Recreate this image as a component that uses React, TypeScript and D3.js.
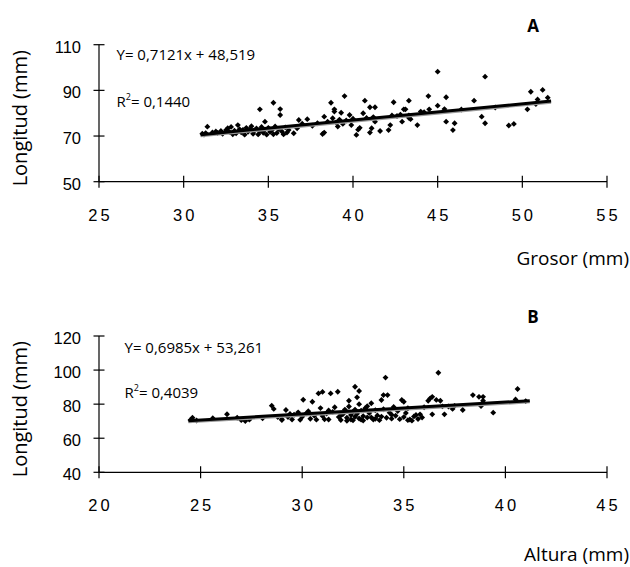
import React from "react";
import * as d3 from "d3";

// Grosor (mm) vs Longitud (mm)
const puntosA: [number, number][] = [
  [31.1, 71.0], [31.2, 70.6], [31.3, 71.3], [31.4, 74.1], [31.7, 71.6], [31.9, 72.0], [32.0, 71.4],
  [32.2, 72.2], [32.3, 71.0], [32.5, 72.6], [32.6, 73.4], [32.7, 71.8], [32.8, 74.0], [32.9, 70.8],
  [33.0, 72.3], [33.1, 71.2], [33.2, 74.8], [33.3, 73.0], [33.4, 71.6], [33.5, 72.7], [33.6, 70.6],
  [33.7, 73.6], [33.8, 71.9], [33.9, 72.8], [34.0, 74.3], [34.1, 71.0], [34.2, 72.4], [34.3, 73.3],
  [34.4, 70.7], [34.5, 81.7], [34.5, 72.0], [34.6, 74.0], [34.7, 71.4], [34.8, 76.3], [34.8, 72.8],
  [34.9, 70.6], [35.0, 73.6], [35.1, 71.8], [35.2, 72.5], [35.3, 84.6], [35.3, 70.8], [35.4, 74.2],
  [35.5, 71.3], [35.6, 73.0], [35.7, 81.8], [35.7, 79.2], [35.8, 72.0], [35.9, 70.7], [36.0, 73.8],
  [36.1, 71.5], [36.2, 72.6],
  [36.5, 71.2], [36.7, 73.4], [36.8, 77.0], [37.0, 75.4], [37.3, 77.4], [37.6, 74.5], [37.9, 75.6],
  [38.2, 70.9], [38.3, 71.5], [38.3, 78.5], [38.5, 76.3], [38.7, 84.6], [38.8, 77.8], [38.9, 81.7],
  [38.9, 80.7], [39.0, 76.0], [39.1, 74.2], [39.2, 77.2], [39.3, 80.2], [39.4, 75.3], [39.5, 87.5],
  [39.6, 76.8], [39.8, 79.2], [39.9, 74.8], [40.0, 77.6], [40.2, 70.5], [40.3, 72.8], [40.4, 73.6],
  [40.6, 80.0], [40.7, 85.5], [40.8, 77.9], [41.0, 82.6], [41.0, 71.5], [41.1, 73.4], [41.2, 78.3],
  [41.3, 82.6], [41.3, 76.3], [41.6, 72.2],
  [42.1, 72.6], [42.2, 74.8], [42.3, 79.0], [42.4, 84.8], [42.6, 78.8], [42.8, 79.4], [42.9, 76.3],
  [43.0, 81.7], [43.1, 81.7], [43.3, 85.5], [43.3, 79.0], [43.3, 78.0], [43.4, 77.4], [43.8, 74.8],
  [44.0, 80.7], [44.2, 80.4], [44.45, 87.5], [44.5, 81.7], [45.0, 98.2], [45.0, 83.3], [45.4, 81.8],
  [45.5, 87.0], [45.5, 76.3], [45.9, 72.6], [46.0, 75.6], [46.4, 81.6], [47.15, 85.5], [47.6, 78.5],
  [47.8, 96.0], [47.8, 75.6], [48.4, 82.5], [49.2, 74.6], [49.5, 75.3], [50.3, 81.7], [50.5, 89.4],
  [50.8, 84.0], [50.9, 86.0], [51.2, 90.2], [51.5, 86.8],
];

// Altura (mm) vs Longitud (mm)
const puntosB: [number, number][] = [
  [24.5, 70.7], [24.6, 72.0], [24.8, 70.4], [25.6, 71.7], [26.3, 74.1], [26.8, 72.0], [27.0, 70.6],
  [27.2, 70.1], [27.4, 70.9], [28.05, 71.7], [28.5, 79.1], [28.6, 77.2], [28.8, 72.4], [29.0, 71.1],
  [29.0, 70.7], [29.2, 76.6], [29.3, 72.4], [29.4, 74.2], [29.5, 71.0], [29.6, 73.8], [29.8, 75.2],
  [29.9, 70.8], [30.0, 72.6], [30.05, 82.6], [30.2, 74.6], [30.3, 75.8], [30.4, 71.4], [30.5, 81.4],
  [30.6, 73.2], [30.7, 70.9], [30.8, 86.3], [30.9, 77.7], [31.0, 87.2], [31.0, 73.0], [31.1, 71.1],
  [31.2, 74.5], [31.3, 71.0], [31.3, 76.3], [31.4, 86.3], [31.5, 75.4], [31.6, 78.2], [31.75, 87.3],
  [31.8, 72.4], [31.9, 70.7], [31.9, 73.5], [32.0, 74.0], [32.1, 76.8], [32.2, 72.0], [32.2, 70.2],
  [32.3, 78.6], [32.3, 82.0], [32.4, 71.0], [32.4, 73.6], [32.5, 75.5], [32.5, 70.5], [32.6, 90.2],
  [32.6, 72.6], [32.6, 76.8], [32.7, 84.0], [32.7, 74.3], [32.8, 87.7], [32.8, 80.0], [32.8, 71.6],
  [32.9, 76.2], [32.9, 70.9], [33.0, 73.0], [33.0, 70.4], [33.1, 77.6], [33.2, 72.2], [33.2, 78.8],
  [33.3, 74.8], [33.4, 80.5], [33.4, 72.2], [33.5, 71.0], [33.6, 76.4], [33.6, 71.4], [33.7, 73.4],
  [33.8, 70.6], [33.9, 82.4], [33.9, 72.7], [34.0, 85.3], [34.0, 77.0], [34.1, 95.6], [34.15, 72.0],
  [34.2, 85.3], [34.3, 75.0], [34.4, 71.5], [34.4, 73.8], [34.5, 78.4], [34.6, 73.2], [34.7, 76.0],
  [34.8, 71.2], [34.9, 82.4], [35.0, 81.4], [35.0, 72.4], [35.1, 74.8], [35.2, 77.6], [35.2, 70.6],
  [35.3, 71.0], [35.4, 70.3], [35.5, 72.8], [35.6, 73.6], [35.7, 71.3], [35.8, 74.0], [35.9, 72.2],
  [36.0, 78.2], [36.2, 82.0], [36.3, 83.4], [36.4, 84.3], [36.4, 74.0], [36.6, 82.5], [36.7, 98.4],
  [36.8, 82.0], [36.9, 78.7], [37.0, 74.0], [37.2, 78.6], [37.4, 77.2], [37.5, 79.0], [37.9, 76.6],
  [38.4, 85.3], [38.7, 84.3], [38.8, 78.9], [38.9, 84.3], [38.9, 82.0], [39.4, 75.0], [40.5, 82.8],
  [40.6, 88.9], [41.0, 81.8],
];

// pendiente, intercepto
const regresionA = [0.7121, 48.519];
const regresionB = [0.6985, 53.261];

const ticksXA = [25, 30, 35, 40, 45, 50, 55];
const ticksYA = [50, 70, 90, 110];
const ticksXB = [20, 25, 30, 35, 40, 45];
const ticksYB = [40, 60, 80, 100, 120];

const TICK_FONT = "'Liberation Sans', Arial, sans-serif";
const TEXT_FONT = "'Open Sans', 'Noto Sans', sans-serif";

const diamondType = (d3 as any).symbolDiamond2 || d3.symbolDiamond;
const diamond = d3.symbol(diamondType, 22)() as string;

type PanelProps = {
  puntos: [number, number][];
  regresion: number[];
  ticksX: number[];
  ticksY: number[];
  top: number;
  bottom: number;
  letra: string;
  letraY: number;
  ecuacion: string;
  r2: string;
  textoX: number;
  ecuacionY: number;
  r2Y: number;
  tituloX: string;
  tituloXY: number;
};

function Panel(p: PanelProps) {
  const x = d3
    .scaleLinear()
    .domain([p.ticksX[0], p.ticksX[p.ticksX.length - 1]])
    .range([99, 607]);
  const y = d3
    .scaleLinear()
    .domain([p.ticksY[0], p.ticksY[p.ticksY.length - 1]])
    .range([p.bottom, p.top]);

  const xs = p.puntos.map((d) => d[0]);
  const x0 = d3.min(xs)! - 0.1;
  const x1 = d3.max(xs)! + 0.2;
  const [m, b] = p.regresion;
  const linea = d3
    .line<number>()
    .x((d) => x(d))
    .y((d) => y(m * d + b));
  const lineaPath = linea([x0, x1]) as string;

  const y0 = y.range()[0];

  return (
    <g>
      {/* axes */}
      <line x1={x.range()[0]} x2={x.range()[1]} y1={y0} y2={y0} stroke="#000" strokeWidth={1.2} />
      <line x1={99} x2={99} y1={y.range()[0]} y2={y.range()[1]} stroke="#000" strokeWidth={1.2} />
      {p.ticksX.map((t) => (
        <g key={"x" + t}>
          <line x1={x(t)} x2={x(t)} y1={y0 - 6} y2={y0 + 6} stroke="#000" strokeWidth={1.2} />
          <text
            x={x(t) + 1.5}
            y={y0 + 39}
            textAnchor="middle"
            fontFamily={TICK_FONT}
            fontSize={16.5}
            letterSpacing={3}
          >
            {t}
          </text>
        </g>
      ))}
      {p.ticksY.map((t) => (
        <g key={"y" + t}>
          <line x1={93.5} x2={104.5} y1={y(t)} y2={y(t)} stroke="#000" strokeWidth={1.2} />
          <text
            x={81}
            y={y(t) + 8}
            textAnchor="end"
            fontFamily={TICK_FONT}
            fontSize={16.5}
          >
            {t}
          </text>
        </g>
      ))}

      {/* points */}
      {p.puntos.map((d, i) => (
        <path key={i} d={diamond} transform={`translate(${x(d[0])},${y(d[1])})`} fill="#000" />
      ))}

      {/* trend line */}
      <path d={lineaPath} transform="translate(0,1.6)" stroke="#9a9a9a" strokeWidth={2.2} fill="none" />
      <path d={lineaPath} stroke="#000" strokeWidth={3} fill="none" />

      {/* texts */}
      <text x={p.textoX} y={p.ecuacionY} fontFamily={TEXT_FONT} fontSize={15}>
        {p.ecuacion}
      </text>
      <text x={p.textoX} y={p.r2Y} fontFamily={TEXT_FONT} fontSize={15}>
        R
        <tspan fontSize={9} dy={-7}>
          2
        </tspan>
        <tspan dy={7}>{p.r2}</tspan>
      </text>
      <text
        x={533}
        y={p.letraY}
        textAnchor="middle"
        fontFamily={TEXT_FONT}
        fontWeight="bold"
        fontSize={17}
      >
        {p.letra}
      </text>
      <text
        transform={`translate(27,${(y.range()[0] + y.range()[1]) / 2 + 5}) rotate(-90)`}
        textAnchor="middle"
        fontFamily={TEXT_FONT}
        fontSize={20}
      >
        Longitud (mm)
      </text>
      <text x={629} y={p.tituloXY} textAnchor="end" fontFamily={TEXT_FONT} fontSize={19}>
        {p.tituloX}
      </text>
    </g>
  );
}

export default function App() {
  return (
    <svg
      width={630}
      height={567}
      style={{ position: "absolute", left: 0, top: 0, background: "#fff" }}
    >
      <Panel
        puntos={puntosA}
        regresion={regresionA}
        ticksX={ticksXA}
        ticksY={ticksYA}
        top={44.7}
        bottom={181.7}
        letra="A"
        letraY={32}
        ecuacion="Y= 0,7121x + 48,519"
        r2="= 0,1440"
        textoX={116.5}
        ecuacionY={60}
        r2Y={107}
        tituloX="Grosor (mm)"
        tituloXY={265}
      />
      <Panel
        puntos={puntosB}
        regresion={regresionB}
        ticksX={ticksXB}
        ticksY={ticksYB}
        top={336}
        bottom={472.3}
        letra="B"
        letraY={323}
        ecuacion="Y= 0,6985x + 53,261"
        r2="= 0,4039"
        textoX={124.5}
        ecuacionY={353}
        r2Y={398}
        tituloX="Altura (mm)"
        tituloXY={561}
      />
    </svg>
  );
}
